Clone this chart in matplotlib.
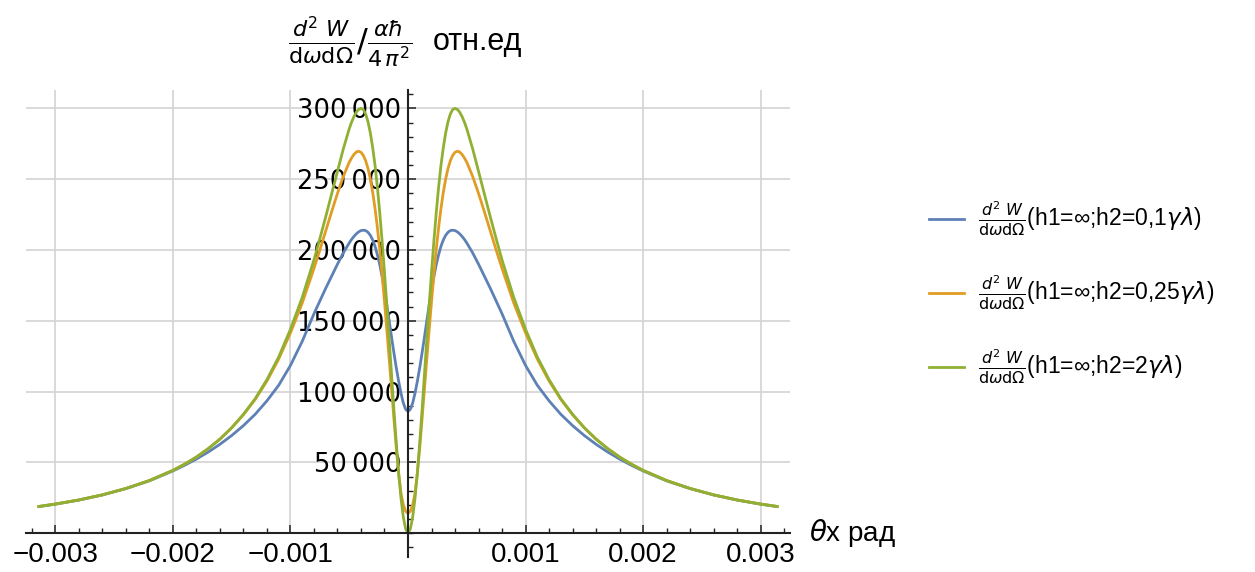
import numpy as np
import matplotlib.pyplot as plt
from matplotlib.ticker import MultipleLocator, FixedLocator, FuncFormatter

# angle (mrad), right half; the distributions are symmetric in theta
theta_mrad = [0.00, 0.02, 0.04, 0.06, 0.08, 0.10, 0.12, 0.14, 0.16, 0.18,
              0.20, 0.22, 0.24, 0.26, 0.28, 0.30, 0.32, 0.34, 0.36, 0.38,
              0.40, 0.42, 0.44, 0.46, 0.48, 0.50, 0.55, 0.60, 0.65, 0.70,
              0.75, 0.80, 0.90, 1.00, 1.10, 1.20, 1.30, 1.40, 1.50, 1.60,
              1.70, 1.80, 1.90, 2.00, 2.20, 2.40, 2.60, 2.80, 3.00, 3.14]

# h2 = 0,1 gamma*lambda
w_h01 = [86000, 87500, 92000, 99000, 107500, 117000, 127500, 138500, 150000, 161000,
         171500, 181000, 189500, 196500, 202500, 207000, 210300, 212500, 213700, 214000,
         213700, 212800, 211400, 209600, 207500, 205000, 198000, 190000, 181500, 173000,
         164000, 155000, 135500, 118500, 104500, 93500, 84000, 76000, 69000, 62800,
         57300, 52400, 48000, 44000, 37000, 31500, 27000, 23400, 20500, 18800]

# h2 = 0,25 gamma*lambda
w_h025 = [14000, 15500, 20000, 28500, 42500, 60500, 81000, 102000, 123000, 143500,
          163500, 182500, 200000, 215500, 229000, 240500, 250000, 257500, 263000, 266800,
          269000, 269800, 269200, 267500, 265000, 262000, 252000, 240000, 227000, 213500,
          200000, 187000, 162500, 141500, 123000, 107500, 94500, 83700, 74400, 66400,
          59700, 53800, 48800, 44400, 37200, 31600, 27100, 23500, 20600, 18900]

# h2 = 2 gamma*lambda
w_h2 = [0, 3000, 11500, 25000, 43000, 64000, 87500, 112000, 137000, 161000,
        184000, 206000, 226000, 244000, 259500, 272000, 282500, 290500, 296000, 299200,
        300000, 299300, 297300, 294200, 290300, 285600, 271500, 255600, 239500, 223500,
        208000, 193000, 166500, 144000, 124500, 108500, 95000, 84000, 74500, 66500,
        59700, 53800, 48800, 44400, 37200, 31600, 27100, 23500, 20600, 18900]

x_ticks = [-0.003, -0.002, -0.001, 0.001, 0.002, 0.003]
y_ticks = [50000, 100000, 150000, 200000, 250000, 300000]

frac = r'$\frac{d^2\ W}{\mathrm{d}\omega\mathrm{d}\Omega}$'
labels = [frac + r'(h1=∞;h2=0,1$\gamma\lambda$)',
          frac + r'(h1=∞;h2=0,25$\gamma\lambda$)',
          frac + r'(h1=∞;h2=2$\gamma\lambda$)']
colors = ['#5E81B5', '#E19C24', '#8FB032']


def mirror(t, v):
    t = np.asarray(t) * 1e-3
    v = np.asarray(v, dtype=float)
    return np.concatenate([-t[::-1], t[1:]]), np.concatenate([v[::-1], v[1:]])


plt.rcParams['font.family'] = ['Liberation Sans', 'DejaVu Sans']
plt.rcParams['mathtext.fontset'] = 'dejavusans'

fig = plt.figure(figsize=(12.55, 5.72), dpi=100)
ax = fig.add_axes([26 / 1255, 15 / 572, 764 / 1255, 467 / 572])

ax.set_xlim(-0.00325, 0.00325)
ax.set_ylim(-16800, 313000)

# grid lines start at the x axis
ax.vlines(x_ticks, 0, 313000, color='#d3d3d3', lw=1.2, zorder=0)
ax.hlines(y_ticks, -0.00325, 0.00325, color='#d3d3d3', lw=1.2, zorder=0)

lines = []
for vals, c, lab in zip([w_h01, w_h025, w_h2], colors, labels):
    xs, ys = mirror(theta_mrad, vals)
    ln, = ax.plot(xs, ys, color=c, lw=2.0, label=lab, zorder=2)
    lines.append(ln)

for s in ['top', 'right']:
    ax.spines[s].set_visible(False)
for s in ['left', 'bottom']:
    ax.spines[s].set_position(('data', 0))
    ax.spines[s].set_linewidth(1.5)
    ax.spines[s].set_color('#222222')

ax.xaxis.set_major_locator(FixedLocator(x_ticks))
ax.xaxis.set_minor_locator(MultipleLocator(0.0002))
ax.yaxis.set_major_locator(FixedLocator(y_ticks))
ax.yaxis.set_minor_locator(MultipleLocator(10000))
ax.xaxis.set_major_formatter(FuncFormatter(lambda v, p: f'{v:.3f}'.replace('-', '\u2212')))
ax.yaxis.set_major_formatter(FuncFormatter(lambda v, p: f'{int(v):,}'.replace(',', '\u2009')))

ax.tick_params(axis='both', which='major', direction='in', length=6, width=1.1, color='#222222')
ax.tick_params(axis='both', which='minor', direction='in', length=3.5, width=1.0, color='#222222')
ax.tick_params(axis='x', which='major', pad=6)
ax.tick_params(axis='y', which='major', pad=5)
for t in ax.get_xticklabels():
    t.set_fontsize(20)
for t in ax.get_yticklabels():
    t.set_fontfamily('DejaVu Sans')
    t.set_fontsize(18.5)

# axis captions
ax.annotate(r'$\theta$x рад', xy=(1, 0), xycoords=('axes fraction', 'data'),
            xytext=(14, 0), textcoords='offset points', ha='left', va='center',
            fontsize=20)
fig.text(288 / 1255, 1 - 42 / 572,
         r'$\frac{d^2\ W}{\mathrm{d}\omega\mathrm{d}\Omega}/\frac{\alpha\hbar}{4\,\pi^2}$',
         fontsize=23, ha='left', va='center')
fig.text(433 / 1255, 1 - 42 / 572, 'отн.ед', fontsize=22, ha='left', va='center')

fig.legend(handles=lines, loc='center left', bbox_to_anchor=(908 / 1255, 1 - 293 / 572),
           frameon=False, fontsize=16.5, handlelength=1.55, handletextpad=0.6,
           labelspacing=1.55)

fig.savefig('out.png', dpi=100)
